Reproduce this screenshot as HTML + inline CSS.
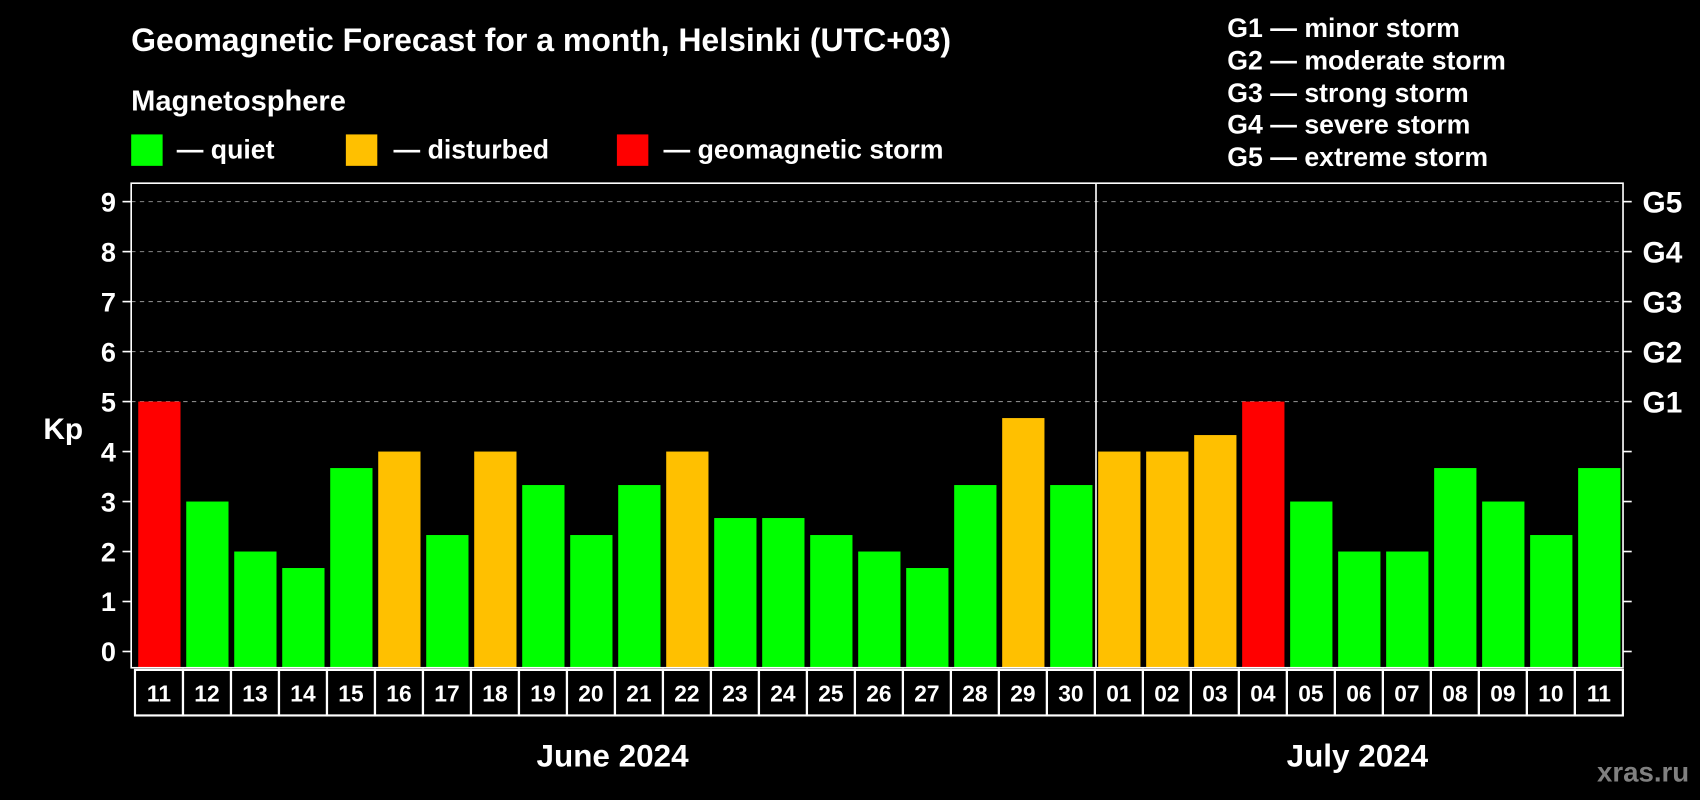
<!DOCTYPE html>
<html><head><meta charset="utf-8"><style>
html,body{margin:0;padding:0;background:#000;}
svg{display:block;font-family:"Liberation Sans",Arial,sans-serif;font-weight:bold;}
</style></head><body>
<svg id="chart" width="1700" height="800" viewBox="0 0 1568 738" preserveAspectRatio="none" xmlns="http://www.w3.org/2000/svg">
<rect width="1568" height="738" fill="#000"/>
<text x="121" y="47" fill="#fff" font-size="29.5">Geomagnetic Forecast for a month, Helsinki (UTC+03)</text>
<text x="121" y="102" fill="#fff" font-size="26.8">Magnetosphere</text>
<rect x="121" y="124" width="29" height="29" fill="#00ff00"/>
<text x="163" y="146" fill="#fff" font-size="24.6">— quiet</text>
<rect x="319" y="124" width="29" height="29" fill="#ffc000"/>
<text x="363" y="146" fill="#fff" font-size="24.6">— disturbed</text>
<rect x="569" y="124" width="29" height="29" fill="#ff0000"/>
<text x="612" y="146" fill="#fff" font-size="24.6">— geomagnetic storm</text>
<g font-size="24.6" fill="#fff">
<text x="1132" y="34">G1 — minor storm</text>
<text x="1132" y="64">G2 — moderate storm</text>
<text x="1132" y="94">G3 — strong storm</text>
<text x="1132" y="123">G4 — severe storm</text>
<text x="1132" y="153">G5 — extreme storm</text>
</g>
<text x="40" y="405" fill="#fff" font-size="27.5">Kp</text>
<text x="565" y="707" fill="#fff" font-size="29" text-anchor="middle">June 2024</text>
<text x="1252" y="707" fill="#fff" font-size="29" text-anchor="middle">July 2024</text>
<text x="1558" y="721" fill="#808080" font-size="25.5" text-anchor="end">xras.ru</text>
<g id="grid"></g><g id="bars"></g><g id="axes"></g>
</svg>
<script>
const days = ["11","12","13","14","15","16","17","18","19","20","21","22","23","24","25","26","27","28","29","30","01","02","03","04","05","06","07","08","09","10","11"];
const kpValues = [5,3,2,1.67,3.67,4,2.33,4,3.33,2.33,3.33,4,2.67,2.67,2.33,2,1.67,3.33,4.67,3.33,4,4,4.33,5,3,2,2,3.67,3,2.33,3.67];
const yTicks = [0,1,2,3,4,5,6,7,8,9];
const gLabels = ["G1","G2","G3","G4","G5"];
const gLevels = [5,6,7,8,9];
const monthSplit = 20;

const NS="http://www.w3.org/2000/svg";
const L=121,R=1497,T=169,B=616,y0=601,unit=46.11,x0=124.5,pitch=44.27,bw=39;
const yS=v=>y0-v*unit;
const xS=i=>x0+i*pitch;
function mk(tag,attrs,parent){const e=document.createElementNS(NS,tag);for(const k in attrs)e.setAttribute(k,attrs[k]);parent.appendChild(e);return e;}
const grid=document.getElementById('grid'),bars=document.getElementById('bars'),axes=document.getElementById('axes');
gLevels.forEach((lv,i)=>{
  const ln=mk('line',{x1:L,x2:R,y1:yS(lv),y2:yS(lv),stroke:'#888','stroke-width':1,'stroke-dasharray':'4,4'},grid);
  
  
  const t=mk('text',{x:R+18,y:yS(lv)+10,fill:'#fff','font-size':27.5},axes);
  t.textContent=gLabels[i];
  
  
});
kpValues.forEach((v,i)=>{
  const c=v>=5?'#ff0000':(v>=4?'#ffc000':'#00ff00');
  const r=mk('rect',{x:xS(i)+3,y:yS(v),width:bw,height:yS(0)-yS(v)+15,fill:c},bars);
  
  
  const cell=mk('rect',{x:xS(i),y:618,width:pitch,height:42,fill:'none',stroke:'#fff','stroke-width':2},axes);
  
  
  const t=mk('text',{x:xS(i)+pitch/2,y:647,fill:'#fff','font-size':21,'text-anchor':'middle'},axes);
  t.textContent=days[i];
  
  
});
const frame=mk('rect',{x:L,y:T,width:R-L,height:B-T,fill:'none',stroke:'#fff','stroke-width':1.5},axes);


const div=mk('line',{x1:xS(monthSplit)+1,x2:xS(monthSplit)+1,y1:T,y2:B,stroke:'#fff','stroke-width':1.5},axes);


yTicks.forEach(v=>{
  mk('line',{x1:L-8,x2:L,y1:yS(v),y2:yS(v),stroke:'#fff','stroke-width':1.5},axes);
  mk('line',{x1:R,x2:R+8,y1:yS(v),y2:yS(v),stroke:'#fff','stroke-width':1.5},axes);
  const t=mk('text',{x:L-14,y:yS(v)+9,fill:'#fff','font-size':25,'text-anchor':'end'},axes);
  t.textContent=v;
  
  
});
</script>
</body></html>
